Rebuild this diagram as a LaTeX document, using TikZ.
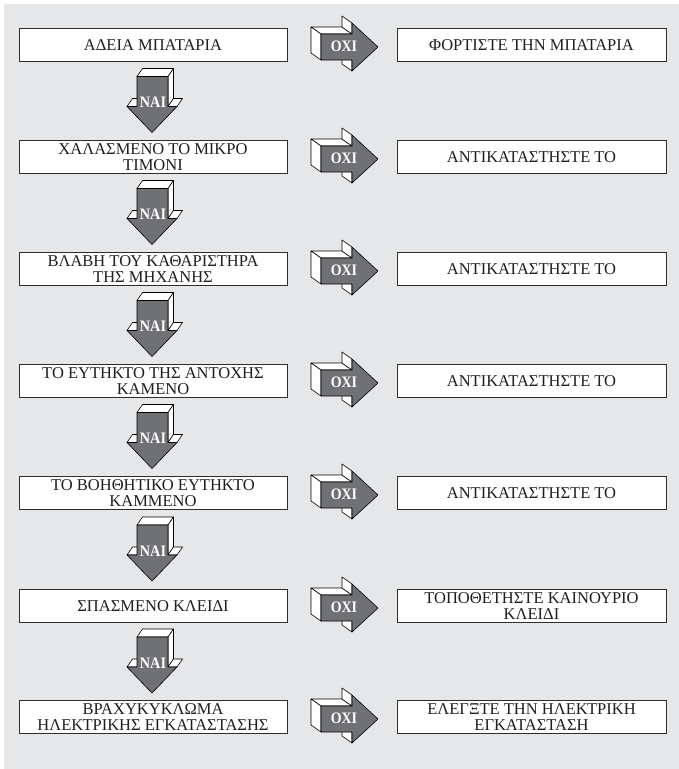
\documentclass[tikz,border=0pt]{standalone}
\usepackage{fontspec}
\setmainfont{Liberation Serif}
\usetikzlibrary{calc}
\definecolor{bg}{RGB}{230,231,233}
\definecolor{arrowgray}{RGB}{112,113,116}
\definecolor{edgec}{RGB}{45,45,45}
\tikzset{
  box/.style={draw=edgec, line width=0.9pt, fill=white, minimum width=268pt,
    minimum height=33pt, inner sep=0pt, align=center, text=black!88,
    font=\fontsize{16.5}{16.3}\selectfont},
  face/.style={fill=white, draw=black, line width=0.6pt, line join=round},
  front/.style={fill=arrowgray, draw=black, line width=0.6pt, line join=round},
  lbl/.style={text=white, inner sep=0pt, font=\fontsize{16}{16}\bfseries\selectfont},
}
\newcommand\RArrowShape{%
  \filldraw[face] (-21,-11) -- (10,-11) -- (0,-18) -- (-31,-18) -- cycle;
  \filldraw[face] (-21,-11) -- (-21,15) -- (-31,8) -- (-31,-18) -- cycle;
  \filldraw[face] (10,-11) -- (10,-22) -- (0,-29) -- (0,-18) -- cycle;
  \filldraw[face] (10,15) -- (10,26) -- (0,19) -- (0,8) -- cycle;
  \filldraw[front] (-21,-11) -- (10,-11) -- (10,-22) -- (36,2) -- (10,26)
     -- (10,15) -- (-21,15) -- cycle;
}
\newcommand\DArrowShape{%
  \filldraw[face] (-16,-24.5) -- (15,-24.5) -- (20.5,-32.5) -- (-10.5,-32.5) -- cycle;
  \filldraw[face] (15,-24.5) -- (15,5.5) -- (20.5,-2.5) -- (20.5,-32.5) -- cycle;
  \filldraw[face] (15,5.5) -- (24,5.5) -- (29.5,-2.5) -- (20.5,-2.5) -- cycle;
  \filldraw[face] (-26,5.5) -- (-16,5.5) -- (-10.5,-2.5) -- (-20.5,-2.5) -- cycle;
  \filldraw[front] (-16,-24.5) -- (15,-24.5) -- (15,5.5) -- (24,5.5) -- (-1,31.5)
     -- (-26,5.5) -- (-16,5.5) -- cycle;
}
\begin{document}
\begin{tikzpicture}[x=1pt,y=-1pt]
\useasboundingbox (0,0) rectangle (679,769);
\fill[white] (0,0) rectangle (679,769);
\fill[bg] (4,4) rectangle (679,769);

\node[box] (L1) at (153,45)  {ΑΔΕΙΑ ΜΠΑΤΑΡΙΑ};
\node[box] (L2) at (153,157) {ΧΑΛΑΣΜΕΝΟ ΤΟ ΜΙΚΡΟ\\ΤΙΜΟΝΙ};
\node[box] (L3) at (153,269) {ΒΛΑΒΗ ΤΟΥ ΚΑΘΑΡΙΣΤΗΡΑ\\ΤΗΣ ΜΗΧΑΝΗΣ};
\node[box] (L4) at (153,381) {ΤΟ ΕΥΤΗΚΤΟ ΤΗΣ ΑΝΤΟΧΗΣ\\ΚΑΜΕΝΟ};
\node[box] (L5) at (153,493) {ΤΟ ΒΟΗΘΗΤΙΚΟ ΕΥΤΗΚΤΟ\\ΚΑΜΜΕΝΟ};
\node[box] (L6) at (153,606) {ΣΠΑΣΜΕΝΟ ΚΛΕΙΔΙ};
\node[box] (L7) at (153,717) {ΒΡΑΧΥΚΥΚΛΩΜΑ\\ΗΛΕΚΤΡΙΚΗΣ ΕΓΚΑΤΑΣΤΑΣΗΣ};

\node[box, minimum width=269pt] (R1) at (531.5,45)  {ΦΟΡΤΙΣΤΕ ΤΗΝ ΜΠΑΤΑΡΙΑ};
\node[box, minimum width=269pt] (R2) at (531.5,157) {ΑΝΤΙΚΑΤΑΣΤΗΣΤΕ ΤΟ};
\node[box, minimum width=269pt] (R3) at (531.5,269) {ΑΝΤΙΚΑΤΑΣΤΗΣΤΕ ΤΟ};
\node[box, minimum width=269pt] (R4) at (531.5,381) {ΑΝΤΙΚΑΤΑΣΤΗΣΤΕ ΤΟ};
\node[box, minimum width=269pt] (R5) at (531.5,493) {ΑΝΤΙΚΑΤΑΣΤΗΣΤΕ ΤΟ};
\node[box, minimum width=269pt] (R6) at (531.5,606) {ΤΟΠΟΘΕΤΗΣΤΕ ΚΑΙΝΟΥΡΙΟ\\ΚΛΕΙΔΙ};
\node[box, minimum width=269pt] (R7) at (531.5,717) {ΕΛΕΓΞΤΕ ΤΗΝ ΗΛΕΚΤΡΙΚΗ\\ΕΓΚΑΤΑΣΤΑΣΗ};

\foreach \i in {1,...,7}{
  \begin{scope}[shift={($(L\i.east)!0.5!(R\i.west)$)}]
    \RArrowShape
    \node[lbl] (o\i) at (2,1.5) {\scalebox{0.87}[1]{ΟΧΙ}};
  \end{scope}
}
\foreach \i/\j in {1/2,2/3,3/4,4/5,5/6,6/7}{
  \begin{scope}[shift={($(L\i.south)!0.5!(L\j.north)$)}]
    \DArrowShape
    \node[lbl] (n\i) at (0,1.5) {\scalebox{0.89}[1]{ΝΑΙ}};
  \end{scope}
}
\end{tikzpicture}
\end{document}
